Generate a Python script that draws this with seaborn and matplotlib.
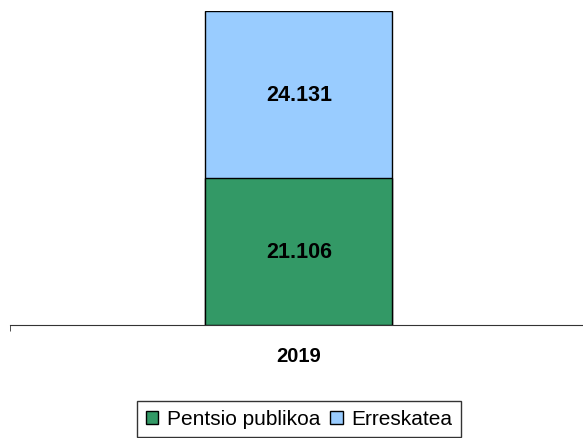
import matplotlib
matplotlib.use("Agg")

import matplotlib.pyplot as plt
import pandas as pd
import seaborn as sns
from matplotlib.patches import Patch

years = ["2019"]
pentsio_publikoa = [21.106]
erreskatea = [24.131]
series_names = ["Pentsio publikoa", "Erreskatea"]
colors = ["#339966", "#99CCFF"]

sns.set_style("white")
plt.rcParams["font.family"] = ["Liberation Sans", "DejaVu Sans"]
plt.rcParams["text.color"] = "black"
plt.rcParams["xtick.color"] = "black"

df = pd.DataFrame({"year": years, "pentsio": pentsio_publikoa, "erreskatea": erreskatea})
df["total"] = df["pentsio"] + df["erreskatea"]

fig = plt.figure(figsize=(5.83, 4.39), dpi=100)
ax = fig.add_axes([10 / 583, 1 - 326 / 439, 573 / 583, 314 / 439])

# stacked: draw the total first, then the bottom segment over it
sns.barplot(data=df, x="year", y="total", color=colors[1], width=0.326,
            edgecolor="black", linewidth=1.0, ax=ax, saturation=1)
sns.barplot(data=df, x="year", y="pentsio", color=colors[0], width=0.326,
            edgecolor="black", linewidth=1.0, ax=ax, saturation=1)

for i, row in df.iterrows():
    ax.text(i + 0.002, row["pentsio"] / 2, f"{row['pentsio']:.3f}", ha="center", va="center",
            fontsize=15.5, fontweight="bold")
    ax.text(i + 0.002, row["pentsio"] + row["erreskatea"] / 2, f"{row['erreskatea']:.3f}",
            ha="center", va="center", fontsize=15.5, fontweight="bold")

left = -0.5035
ax.set_xlim(left, left + 1)
ax.set_ylim(0, df["total"].max())
ax.set_yticks([])
ax.set_xlabel("")
ax.set_ylabel("")
for side in ["top", "right", "left"]:
    ax.spines[side].set_visible(False)
ax.spines["bottom"].set_color("#333333")
ax.tick_params(axis="x", which="major", length=0, pad=15)
ax.set_xticks([left], minor=True)
ax.tick_params(axis="x", which="minor", length=4, color="#333333", bottom=True)
for lbl in ax.get_xticklabels():
    lbl.set_fontsize(14.5)
    lbl.set_fontweight("bold")

handles = [Patch(facecolor=c, edgecolor="black", linewidth=1.0) for c in colors]
leg = fig.legend(handles, series_names, loc="center", bbox_to_anchor=(299 / 583, 1 - 420 / 439),
                 ncol=2, frameon=True, fancybox=False, fontsize=15, handlelength=0.6,
                 handleheight=0.6, handletextpad=0.4, columnspacing=0.5, borderpad=0.4)
leg.get_frame().set_edgecolor("black")
leg.get_frame().set_linewidth(1.0)

fig.savefig("out.png", dpi=100)
plt.close(fig)
